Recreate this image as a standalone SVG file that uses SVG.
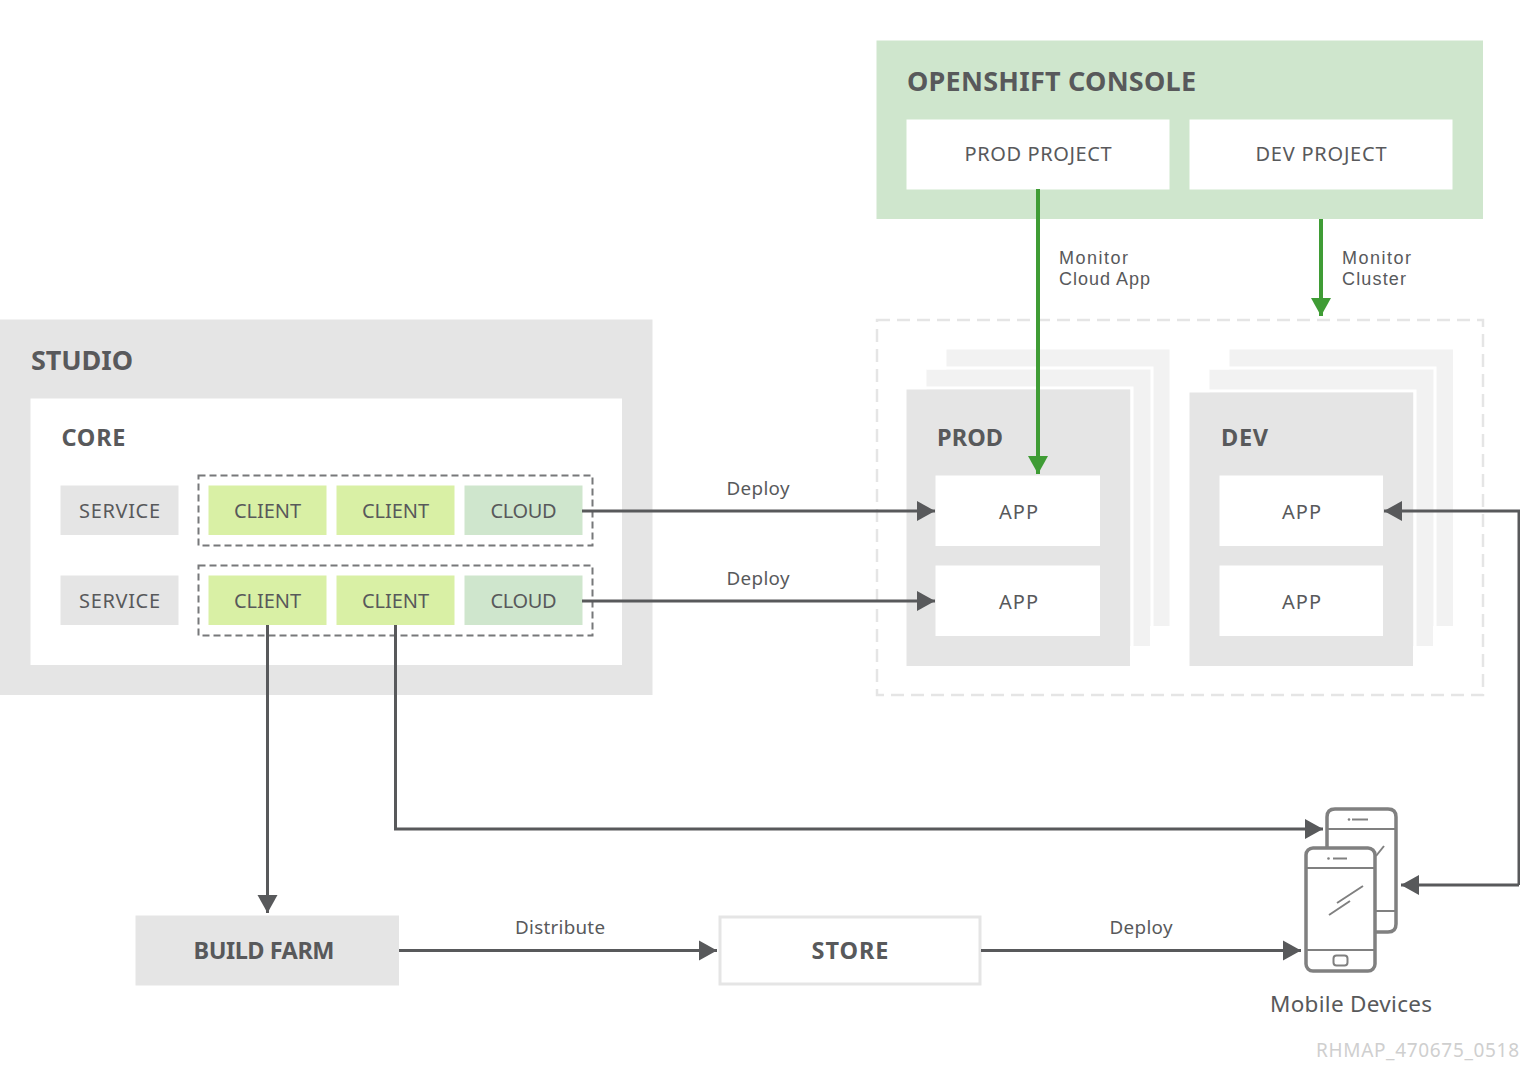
<svg xmlns="http://www.w3.org/2000/svg" width="1520" height="1092" viewBox="0 0 1520 1092">
<style>
text{font-family:"Noto Sans","Liberation Sans",sans-serif;fill:#58595b}
.c{text-anchor:middle}
.h{font-weight:700;font-size:27px}
.m{font-weight:700;font-size:23.500px}
.l{font-size:20px}
.s{font-size:18.800px}
.n{font-family:"Liberation Sans",sans-serif;font-size:18px}
.g{fill:#e5e5e5}
.w{fill:#fff}
.b{fill:#f2f2f2}
.y{fill:#d9f0a5}
.t{fill:#cfe6cd}
.dash{fill:none;stroke:#77787a;stroke-width:2;stroke-dasharray:7 4}
.con{fill:none;stroke:#58595b;stroke-width:3}
.gc{fill:none;stroke:#3f9c35;stroke-width:4}
.ph{fill:none;stroke:#808080;stroke-width:3.5}
.pt{fill:none;stroke:#808080;stroke-width:2}
</style>
<defs>
<marker id="a" markerUnits="userSpaceOnUse" markerWidth="19" markerHeight="22" refX="18" refY="11" orient="auto"><path d="M0 1L18 11L0 21Z" fill="#58595b"/></marker>
<marker id="ag" markerUnits="userSpaceOnUse" markerWidth="19" markerHeight="22" refX="18" refY="11" orient="auto"><path d="M0 1L18 11L0 21Z" fill="#3f9c35"/></marker>
</defs>

<g id="console"><rect x="876.500" y="40.500" width="606.500" height="178.500" class="t"/><text x="907" y="91" class="h" textLength="289">OPENSHIFT CONSOLE</text></g>
<g id="prod-project"><rect x="906.500" y="119.500" width="263" height="70" class="w"/><text x="1038" y="161" class="l c" textLength="147">PROD PROJECT</text></g>
<g id="dev-project"><rect x="1189.500" y="119.500" width="263" height="70" class="w"/><text x="1321" y="161" class="l c" textLength="131">DEV PROJECT</text></g>

<g id="studio"><rect x="0" y="319.500" width="652.500" height="375.500" class="g"/><text x="31" y="370" class="h" textLength="102">STUDIO</text></g>
<g id="core"><rect x="30.500" y="398.500" width="591.500" height="266.500" class="w"/><text x="61.500" y="446" class="m" textLength="64">CORE</text></g>
<g id="service-1"><rect x="60.500" y="485.500" width="118" height="49.500" class="g"/><text x="119.500" y="518" class="l c" textLength="81">SERVICE</text></g>
<g id="service-2"><rect x="60.500" y="575.500" width="118" height="49.500" class="g"/><text x="119.500" y="608" class="l c" textLength="81">SERVICE</text></g>
<g id="group-1"><rect x="198.500" y="475.500" width="394" height="70" class="dash"/></g>
<g id="group-2"><rect x="198.500" y="565.500" width="394" height="70" class="dash"/></g>
<g id="client-1"><rect x="208.500" y="485.500" width="118" height="49.500" class="y"/><text x="267.500" y="518" class="l c" textLength="67">CLIENT</text></g>
<g id="client-2"><rect x="336.500" y="485.500" width="118" height="49.500" class="y"/><text x="395.500" y="518" class="l c" textLength="67">CLIENT</text></g>
<g id="cloud-1"><rect x="464.500" y="485.500" width="118" height="49.500" class="t"/><text x="523.500" y="518" class="l c" textLength="66">CLOUD</text></g>
<g id="client-3"><rect x="208.500" y="575.500" width="118" height="49.500" class="y"/><text x="267.500" y="608" class="l c" textLength="67">CLIENT</text></g>
<g id="client-4"><rect x="336.500" y="575.500" width="118" height="49.500" class="y"/><text x="395.500" y="608" class="l c" textLength="67">CLIENT</text></g>
<g id="cloud-2"><rect x="464.500" y="575.500" width="118" height="49.500" class="t"/><text x="523.500" y="608" class="l c" textLength="66">CLOUD</text></g>

<g id="cluster"><rect x="877" y="320" width="606" height="375" fill="none" stroke="#e5e5e5" stroke-width="2.500" stroke-dasharray="13 7"/></g>
<g id="prod">
<rect x="946.500" y="349.500" width="223" height="276.500" class="b"/>
<rect x="926.500" y="369.500" width="223.500" height="276.500" class="b"/>
<path d="M927 368H1152V646" fill="none" stroke="#fff" stroke-width="3"/>
<path d="M907 388H1132V666" fill="none" stroke="#fff" stroke-width="3"/>
<rect x="906.500" y="389.500" width="223.500" height="276.500" class="g"/>
<text x="937" y="446" class="m" textLength="66">PROD</text>
</g>
<g id="prod-app-1"><rect x="935.500" y="475.500" width="164.500" height="70.500" class="w"/><text x="1018.500" y="519" class="l c" textLength="39">APP</text></g>
<g id="prod-app-2"><rect x="935.500" y="565.500" width="164.500" height="70.500" class="w"/><text x="1018.500" y="609" class="l c" textLength="39">APP</text></g>
<g id="dev">
<rect x="1229.500" y="349.500" width="223.500" height="276.500" class="b"/>
<rect x="1209.500" y="369.500" width="223.500" height="276.500" class="b"/>
<path d="M1210 368H1435V646" fill="none" stroke="#fff" stroke-width="3"/>
<path d="M1190 391H1415V666" fill="none" stroke="#fff" stroke-width="3"/>
<rect x="1189.500" y="392.500" width="223.500" height="273.500" class="g"/>
<text x="1221" y="446" class="m" textLength="47">DEV</text>
</g>
<g id="dev-app-1"><rect x="1219.500" y="475.500" width="163.500" height="70.500" class="w"/><text x="1301.500" y="519" class="l c" textLength="39">APP</text></g>
<g id="dev-app-2"><rect x="1219.500" y="565.500" width="163.500" height="70.500" class="w"/><text x="1301.500" y="609" class="l c" textLength="39">APP</text></g>

<g id="build-farm"><rect x="135.500" y="915.500" width="263.500" height="70" class="g"/><text x="264" y="958.500" class="m c" textLength="141">BUILD FARM</text></g>
<g id="store"><rect x="720" y="917" width="260" height="67" class="w" stroke="#e5e5e5" stroke-width="3"/><text x="850" y="958.500" class="m c" textLength="77">STORE</text></g>

<g id="mobile-devices">
<path d="M1327 848V817Q1327 809 1335 809H1388Q1396 809 1396 817V924Q1396 932 1388 932H1376" class="ph"/>
<path d="M1327 829H1396M1376 911H1396" class="pt"/>
<path d="M1352 819.500H1368" class="pt"/><circle cx="1349" cy="819.500" r="1.300" fill="#808080"/>
<path d="M1376 856L1384 846" class="pt"/>
<rect x="1306" y="848" width="69" height="123" rx="7" fill="#fff" stroke="#808080" stroke-width="3.500"/>
<path d="M1306 868H1375M1306 950H1375" class="pt"/>
<path d="M1333 858.500H1347" class="pt"/><circle cx="1328.500" cy="858.500" r="1.300" fill="#808080"/>
<path d="M1337 903L1363 886M1329 915L1350 901" class="pt"/>
<rect x="1333.500" y="955.500" width="14" height="10" rx="3" class="pt"/>
<text x="1351" y="1012" class="c" font-size="22.500" textLength="162">Mobile Devices</text>
</g>
<g id="footer"><text x="1519" y="1057" text-anchor="end" font-size="19" style="fill:#cfcfcf" textLength="203">RHMAP_470675_0518</text></g>

<g id="connectors">
<path d="M1038 189V474" class="gc" marker-end="url(#ag)"/>
<path d="M1321 219V316" class="gc" marker-end="url(#ag)"/>
<path d="M582 511H935" class="con" marker-end="url(#a)"/>
<path d="M582 601H935" class="con" marker-end="url(#a)"/>
<path d="M1519 885V511H1384" class="con" marker-end="url(#a)"/>
<path d="M1519 885H1401" class="con" marker-end="url(#a)"/>
<path d="M267.500 625V913" class="con" marker-end="url(#a)"/>
<path d="M395.500 625V829H1323" class="con" marker-end="url(#a)"/>
<path d="M399 950.500H717" class="con" marker-end="url(#a)"/>
<path d="M981 950.500H1301" class="con" marker-end="url(#a)"/>
<text x="1059" y="263.500" class="n" textLength="69">Monitor</text>
<text x="1059" y="284.500" class="n" textLength="91">Cloud App</text>
<text x="1342" y="263.500" class="n" textLength="69">Monitor</text>
<text x="1342" y="284.500" class="n" textLength="64">Cluster</text>
<text x="758" y="495" class="s c" textLength="63">Deploy</text>
<text x="758" y="585" class="s c" textLength="63">Deploy</text>
<text x="560" y="934" class="s c" textLength="90">Distribute</text>
<text x="1141" y="934" class="s c" textLength="63">Deploy</text>
</g>
</svg>
